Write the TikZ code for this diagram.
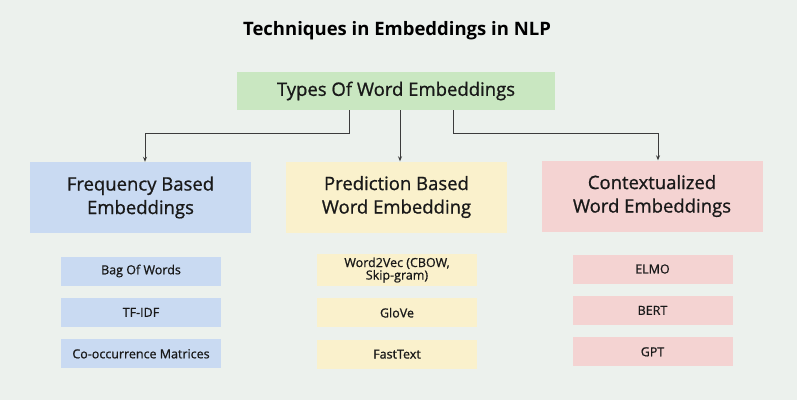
\documentclass[tikz,border=0pt]{standalone}
\usepackage{fontspec}
\setmainfont{Open Sans}
\newfontfamily\medfont{Open Sans}[FakeBold=0.9]
\usetikzlibrary{arrows.meta,positioning}

\definecolor{bgcol}{RGB}{236,241,237}
\definecolor{topcol}{RGB}{201,231,193}
\definecolor{freqcol}{RGB}{201,218,242}
\definecolor{predcol}{RGB}{250,241,204}
\definecolor{ctxcol}{RGB}{244,211,210}
\definecolor{inkcol}{RGB}{25,25,25}
\definecolor{linecol}{RGB}{60,60,60}

\tikzset{
  headbox/.style={minimum width=221pt, minimum height=71pt, align=center,
    font=\medfont\fontsize{18.5}{23.5}\selectfont, text=inkcol},
  itembox/.style={minimum width=160pt, minimum height=29pt, align=center,
    font=\medfont\fontsize{12.5}{12.5}\selectfont, text=inkcol},
  link/.style={draw=linecol, line width=0.9pt, -{Stealth[length=5pt,width=4pt]}}
}

\begin{document}
\begin{tikzpicture}[x=1pt, y=-1pt, node distance=12pt]

            \fill[bgcol] (0,0) rectangle (797,400);
            \useasboundingbox (0,0) rectangle (797,400);

            \node (T) at (397,31) {\fontsize{18.5}{22}\selectfont\bfseries Techniques in Embeddings in NLP};
            \node (W) [fill=topcol, minimum width=318pt, minimum height=38pt,
                       font=\medfont\fontsize{18.5}{22}\selectfont, text=inkcol] at (396,91) {Types Of Word Embeddings};

            \node (F) [headbox, fill=freqcol] at (140.5,197.5) {Frequency Based\\Embeddings};
            \node (P) [headbox, fill=predcol] at (396.5,197) {Prediction Based\\Word Embedding};
            \node (C) [headbox, fill=ctxcol] at (652,196) {Contextualized\\Word Embeddings};

            \begin{scope}[every node/.style={itembox}]
              \node (F1) [fill=freqcol] at (141,271) {Bag Of Words};
              \node (F2) [fill=freqcol, below=of F1] {TF-IDF};
              \node (F3) [fill=freqcol, below=of F2] {Co-occurrence Matrices};

              \node (P1) [fill=predcol, font=\medfont\fontsize{12.5}{12.5}\selectfont] at (397,270) {Word2Vec (CBOW,\\Skip-gram)};
              \node (P2) [fill=predcol, below=of P1] {GloVe};
              \node (P3) [fill=predcol, below=of P2] {FastText};

              \node (C1) [fill=ctxcol] at (652.5,269) {ELMO};
              \node (C2) [fill=ctxcol, below=of C1] {BERT};
              \node (C3) [fill=ctxcol, below=of C2] {GPT};
            \end{scope}

            \draw[link] ([xshift=-47pt]W.south) -- ++(0,23) -| ([xshift=4.5pt]F.north);
            \draw[link] ([xshift=4pt]W.south) -- ([xshift=4pt]W.south |- P.north);
            \draw[link] ([xshift=57pt]W.south) -- ++(0,23) -| ([xshift=6pt]C.north);
        \end{tikzpicture}
\end{document}
